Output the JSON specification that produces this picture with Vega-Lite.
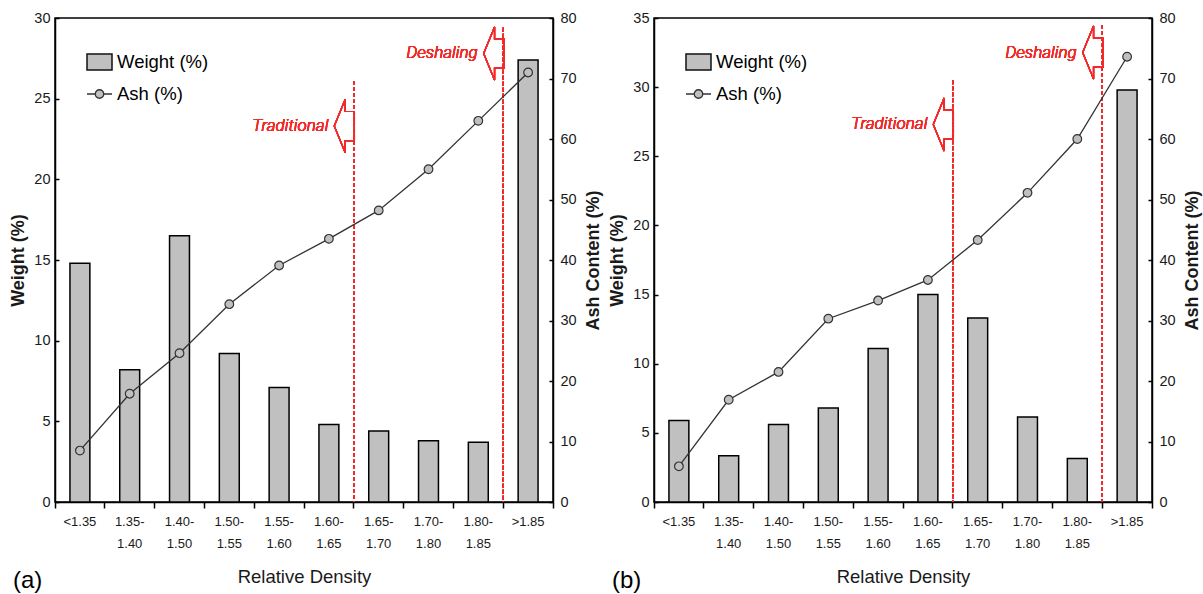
{
  "$schema": "https://vega.github.io/schema/vega-lite/v6.json",
  "background": "white",
  "padding": {"left": 9, "top": 9, "right": 5, "bottom": 5},
  "datasets": {
    "panelA": [
      {"density": "<1.35", "weight": 14.8, "ash": 8.5},
      {"density": "1.35-1.40", "weight": 8.2, "ash": 17.9},
      {"density": "1.40-1.50", "weight": 16.5, "ash": 24.6},
      {"density": "1.50-1.55", "weight": 9.2, "ash": 32.7},
      {"density": "1.55-1.60", "weight": 7.1, "ash": 39.1},
      {"density": "1.60-1.65", "weight": 4.8, "ash": 43.5},
      {"density": "1.65-1.70", "weight": 4.4, "ash": 48.2},
      {"density": "1.70-1.80", "weight": 3.8, "ash": 55.0},
      {"density": "1.80-1.85", "weight": 3.7, "ash": 63.0},
      {"density": ">1.85", "weight": 27.4, "ash": 71.0}
    ],
    "panelB": [
      {"density": "<1.35", "weight": 5.9, "ash": 5.9},
      {"density": "1.35-1.40", "weight": 3.35, "ash": 16.9},
      {"density": "1.40-1.50", "weight": 5.6, "ash": 21.5},
      {"density": "1.50-1.55", "weight": 6.8, "ash": 30.3},
      {"density": "1.55-1.60", "weight": 11.1, "ash": 33.3},
      {"density": "1.60-1.65", "weight": 15.0, "ash": 36.7},
      {"density": "1.65-1.70", "weight": 13.3, "ash": 43.3},
      {"density": "1.70-1.80", "weight": 6.15, "ash": 51.1},
      {"density": "1.80-1.85", "weight": 3.15, "ash": 60.0},
      {"density": ">1.85", "weight": 29.8, "ash": 73.6}
    ]
  },
  "config": {
    "view": {"stroke": "black", "strokeWidth": 1.5},
    "axis": {
      "domainColor": "black", "domainWidth": 1.5, "tickColor": "black", "tickWidth": 1.5,
      "labelColor": "#1a1a1a", "titleColor": "#1a1a1a", "grid": false,
      "labelFont": "Liberation Sans", "titleFont": "Liberation Sans"
    },
    "legend": {"labelFont": "Liberation Sans", "labelFontSize": 18.5, "labelColor": "black", "labelOffset": 4, "padding": 0, "title": null},
    "title": {"color": "black"}
  },
  "spacing": 101,
  "bounds": "flush",
  "resolve": {"scale": {"fill": "independent", "stroke": "independent"}, "legend": {"fill": "independent", "stroke": "independent"}},
  "hconcat": [
    {
      "width": 498, "height": 484,
      "data": {"name": "panelA"},
      "title": {"text": "(a)", "orient": "bottom", "anchor": "start", "frame": "group", "dx": -42, "offset": -17, "fontSize": 24, "font": "Liberation Sans", "fontWeight": "normal", "color": "black"},
      "encoding": {
        "x": {"field": "density", "type": "nominal",
          "scale": {"domain": ["<1.35", "1.35-1.40", "1.40-1.50", "1.50-1.55", "1.55-1.60", "1.60-1.65", "1.65-1.70", "1.70-1.80", "1.80-1.85", ">1.85"], "paddingInner": 0, "paddingOuter": 0},
          "axis": {"title": "Relative Density", "labelAngle": 0, "labelExpr": "split(replace(datum.label, '-', '- '), ' ')", "bandPosition": 1, "tickExtra": true, "tickSize": 6, "labelPadding": 7, "labelFontSize": 13, "labelLineHeight": 22, "titleFontSize": 18.5, "titleFontWeight": "normal", "titlePadding": 17}}
      },
      "layer": [
        {
          "layer": [
            {
              "mark": {"type": "bar", "width": {"band": 0.4}, "stroke": "black", "strokeWidth": 1.5},
              "encoding": {
                "y": {"field": "weight", "type": "quantitative", "scale": {"domain": [0, 30], "nice": false},
                  "axis": {"orient": "left", "title": "Weight (%)", "values": [0, 5, 10, 15, 20, 25, 30], "tickSize": -4, "labelPadding": 9, "labelFontSize": 14.5, "titleFontSize": 18, "titleFontWeight": "bold", "titlePadding": 6}},
                "fill": {"datum": "Weight (%)", "type": "nominal", "scale": {"range": ["#c0c0c0"]},
                  "legend": {"orient": "none", "legendX": 31, "legendY": 30.5, "symbolType": "M-1,-0.64H1V0.64H-1Z", "symbolSize": 625, "symbolStrokeColor": "#111111", "symbolStrokeWidth": 1.5, "symbolFillColor": "#c0c0c0"}}
              }
            },
            {
              "mark": {"type": "rule", "color": "#f22a2a", "strokeWidth": 1.5, "strokeDash": [4, 2]},
              "encoding": {"x": {"datum": "1.60-1.65", "type": "nominal", "bandPosition": 1}, "y": {"datum": 26.1}, "y2": {"datum": 0}}
            },
            {
              "mark": {"type": "rule", "color": "#f22a2a", "strokeWidth": 1.5, "strokeDash": [4, 2]},
              "encoding": {"x": {"datum": "1.80-1.85", "type": "nominal", "bandPosition": 1}, "y": {"datum": 29.4}, "y2": {"datum": 0}}
            },
            {
              "mark": {"type": "point", "shape": "M-0.38,0L0.03,-1L0.03,-0.55L0.38,-0.55L0.38,0.55L0.03,0.55L0.03,1Z", "filled": false, "stroke": "#f22a2a", "strokeWidth": 1.2, "size": 2809, "opacity": 1},
              "encoding": {"x": {"datum": "1.60-1.65", "type": "nominal", "bandPosition": 0.81}, "y": {"datum": 23.3}}
            },
            {
              "mark": {"type": "point", "shape": "M-0.38,0L0.03,-1L0.03,-0.55L0.38,-0.55L0.38,0.55L0.03,0.55L0.03,1Z", "filled": false, "stroke": "#f22a2a", "strokeWidth": 1.2, "size": 2809, "opacity": 1},
              "encoding": {"x": {"datum": "1.80-1.85", "type": "nominal", "bandPosition": 0.81}, "y": {"datum": 27.8}}
            },
            {
              "mark": {"type": "text", "text": "Traditional", "align": "right", "baseline": "middle", "dx": -16, "fontSize": 17, "fontStyle": "italic", "fontWeight": 300, "font": "Roboto", "color": "#f22a2a"},
              "encoding": {"x": {"datum": "1.60-1.65", "type": "nominal", "bandPosition": 0.81}, "y": {"datum": 23.3}}
            },
            {
              "mark": {"type": "text", "text": "Deshaling", "align": "right", "baseline": "middle", "dx": -16, "fontSize": 17, "fontStyle": "italic", "fontWeight": 300, "font": "Roboto", "color": "#f22a2a"},
              "encoding": {"x": {"datum": "1.80-1.85", "type": "nominal", "bandPosition": 0.81}, "y": {"datum": 27.8}}
            }
          ]
        },
        {
          "layer": [
            {
              "mark": {"type": "line", "strokeWidth": 1.3},
              "encoding": {
                "y": {"field": "ash", "type": "quantitative", "scale": {"domain": [0, 80], "nice": false},
                  "axis": {"orient": "right", "title": "Ash Content (%)", "titleAngle": 270, "titleBaseline": "top", "values": [0, 10, 20, 30, 40, 50, 60, 70, 80], "tickSize": -4, "labelPadding": 11, "labelFontSize": 14.5, "titleFontSize": 18, "titleFontWeight": "bold", "titlePadding": 8}},
                "stroke": {"datum": "Ash (%)", "type": "nominal", "scale": {"range": ["#333333"]},
                  "legend": {"orient": "none", "legendX": 31, "legendY": 62.5, "symbolType": "M-1,0H-0.34M0.34,0H1M-0.34,0A0.34,0.34 0 1 0 0.34,0A0.34,0.34 0 1 0 -0.34,0Z", "symbolSize": 625, "symbolStrokeWidth": 1.3, "symbolFillColor": "#c0c0c0"}}
              }
            },
            {
              "mark": {"type": "point", "filled": true, "fill": "#c0c0c0", "stroke": "#333333", "strokeWidth": 1.2, "size": 75, "opacity": 1},
              "encoding": {"y": {"field": "ash", "type": "quantitative"}}
            }
          ]
        }
      ],
      "resolve": {"scale": {"y": "independent"}}
    },
    {
      "width": 498, "height": 484,
      "data": {"name": "panelB"},
      "title": {"text": "(b)", "orient": "bottom", "anchor": "start", "frame": "group", "dx": -42, "offset": -17, "fontSize": 24, "font": "Liberation Sans", "fontWeight": "normal", "color": "black"},
      "encoding": {
        "x": {"field": "density", "type": "nominal",
          "scale": {"domain": ["<1.35", "1.35-1.40", "1.40-1.50", "1.50-1.55", "1.55-1.60", "1.60-1.65", "1.65-1.70", "1.70-1.80", "1.80-1.85", ">1.85"], "paddingInner": 0, "paddingOuter": 0},
          "axis": {"title": "Relative Density", "labelAngle": 0, "labelExpr": "split(replace(datum.label, '-', '- '), ' ')", "bandPosition": 1, "tickExtra": true, "tickSize": 6, "labelPadding": 7, "labelFontSize": 13, "labelLineHeight": 22, "titleFontSize": 18.5, "titleFontWeight": "normal", "titlePadding": 17}}
      },
      "layer": [
        {
          "layer": [
            {
              "mark": {"type": "bar", "width": {"band": 0.4}, "stroke": "black", "strokeWidth": 1.5},
              "encoding": {
                "y": {"field": "weight", "type": "quantitative", "scale": {"domain": [0, 35], "nice": false},
                  "axis": {"orient": "left", "title": "Weight (%)", "values": [0, 5, 10, 15, 20, 25, 30, 35], "tickSize": -4, "labelPadding": 9, "labelFontSize": 14.5, "titleFontSize": 18, "titleFontWeight": "bold", "titlePadding": 6}},
                "fill": {"datum": "Weight (%)", "type": "nominal", "scale": {"range": ["#c0c0c0"]},
                  "legend": {"orient": "none", "legendX": 31, "legendY": 30.5, "symbolType": "M-1,-0.64H1V0.64H-1Z", "symbolSize": 625, "symbolStrokeColor": "#111111", "symbolStrokeWidth": 1.5, "symbolFillColor": "#c0c0c0"}}
              }
            },
            {
              "mark": {"type": "rule", "color": "#f22a2a", "strokeWidth": 1.5, "strokeDash": [4, 2]},
              "encoding": {"x": {"datum": "1.60-1.65", "type": "nominal", "bandPosition": 1}, "y": {"datum": 30.5}, "y2": {"datum": 0}}
            },
            {
              "mark": {"type": "rule", "color": "#f22a2a", "strokeWidth": 1.5, "strokeDash": [4, 2]},
              "encoding": {"x": {"datum": "1.80-1.85", "type": "nominal", "bandPosition": 1}, "y": {"datum": 34.5}, "y2": {"datum": 0}}
            },
            {
              "mark": {"type": "point", "shape": "M-0.38,0L0.03,-1L0.03,-0.55L0.38,-0.55L0.38,0.55L0.03,0.55L0.03,1Z", "filled": false, "stroke": "#f22a2a", "strokeWidth": 1.2, "size": 2809, "opacity": 1},
              "encoding": {"x": {"datum": "1.60-1.65", "type": "nominal", "bandPosition": 0.81}, "y": {"datum": 27.3}}
            },
            {
              "mark": {"type": "point", "shape": "M-0.38,0L0.03,-1L0.03,-0.55L0.38,-0.55L0.38,0.55L0.03,0.55L0.03,1Z", "filled": false, "stroke": "#f22a2a", "strokeWidth": 1.2, "size": 2809, "opacity": 1},
              "encoding": {"x": {"datum": "1.80-1.85", "type": "nominal", "bandPosition": 0.81}, "y": {"datum": 32.5}}
            },
            {
              "mark": {"type": "text", "text": "Traditional", "align": "right", "baseline": "middle", "dx": -16, "fontSize": 17, "fontStyle": "italic", "fontWeight": 300, "font": "Roboto", "color": "#f22a2a"},
              "encoding": {"x": {"datum": "1.60-1.65", "type": "nominal", "bandPosition": 0.81}, "y": {"datum": 27.3}}
            },
            {
              "mark": {"type": "text", "text": "Deshaling", "align": "right", "baseline": "middle", "dx": -16, "fontSize": 17, "fontStyle": "italic", "fontWeight": 300, "font": "Roboto", "color": "#f22a2a"},
              "encoding": {"x": {"datum": "1.80-1.85", "type": "nominal", "bandPosition": 0.81}, "y": {"datum": 32.5}}
            }
          ]
        },
        {
          "layer": [
            {
              "mark": {"type": "line", "strokeWidth": 1.3},
              "encoding": {
                "y": {"field": "ash", "type": "quantitative", "scale": {"domain": [0, 80], "nice": false},
                  "axis": {"orient": "right", "title": "Ash Content (%)", "titleAngle": 270, "titleBaseline": "top", "values": [0, 10, 20, 30, 40, 50, 60, 70, 80], "tickSize": -4, "labelPadding": 11, "labelFontSize": 14.5, "titleFontSize": 18, "titleFontWeight": "bold", "titlePadding": 8}},
                "stroke": {"datum": "Ash (%)", "type": "nominal", "scale": {"range": ["#333333"]},
                  "legend": {"orient": "none", "legendX": 31, "legendY": 62.5, "symbolType": "M-1,0H-0.34M0.34,0H1M-0.34,0A0.34,0.34 0 1 0 0.34,0A0.34,0.34 0 1 0 -0.34,0Z", "symbolSize": 625, "symbolStrokeWidth": 1.3, "symbolFillColor": "#c0c0c0"}}
              }
            },
            {
              "mark": {"type": "point", "filled": true, "fill": "#c0c0c0", "stroke": "#333333", "strokeWidth": 1.2, "size": 75, "opacity": 1},
              "encoding": {"y": {"field": "ash", "type": "quantitative"}}
            }
          ]
        }
      ],
      "resolve": {"scale": {"y": "independent"}}
    }
  ]
}
